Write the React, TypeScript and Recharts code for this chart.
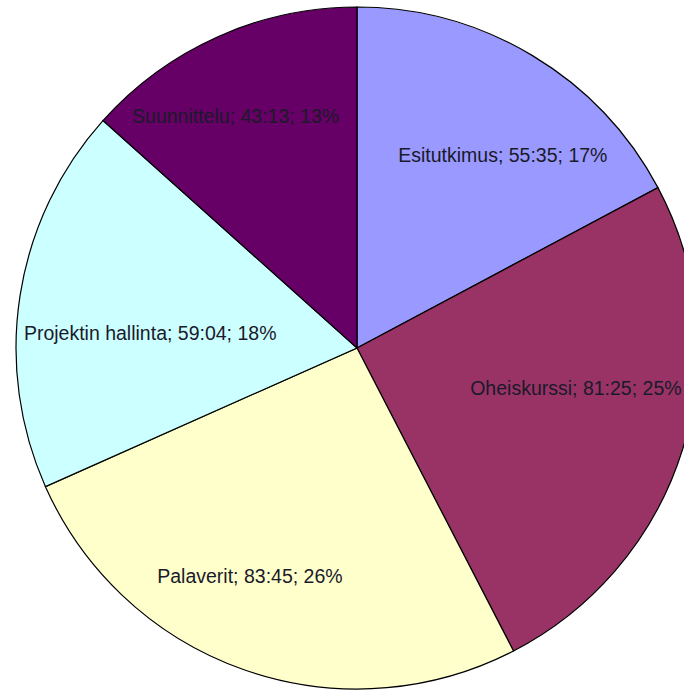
import { PieChart, Pie, Cell } from "recharts";

const names = [
  "Esitutkimus",
  "Oheiskurssi",
  "Palaverit",
  "Projektin hallinta",
  "Suunnittelu",
];
// hours spent, hh:mm
const durations = ["55:35", "81:25", "83:45", "59:04", "43:13"];
const colors = ["#9999ff", "#993366", "#ffffcc", "#ccffff", "#660066"];
// small nudges so labels sit where the original put them
const labelNudge = [
  [23, 12],
  [-9, -31],
  [-28, 3],
  [29, 22],
  [-24, -14],
];

const toHours = (s: string) => {
  const [h, m] = s.split(":").map(Number);
  return h + m / 60;
};

const data = names.map((name, i) => ({
  name,
  time: durations[i],
  value: toHours(durations[i]),
}));

const total = data.reduce((a, d) => a + d.value, 0);

const RAD = Math.PI / 180;

const renderLabel = (props: any) => {
  const { cx, cy, midAngle, outerRadius, index } = props;
  const r = outerRadius * 0.7;
  const x = cx + r * Math.cos(-midAngle * RAD) + labelNudge[index][0];
  const y = cy + r * Math.sin(-midAngle * RAD) + labelNudge[index][1];
  const d = data[index];
  const pct = Math.round((d.value / total) * 100);
  return (
    <text
      x={x}
      y={y}
      textAnchor="middle"
      dominantBaseline="central"
      fill="#1a1a2a"
      fontSize={19.5}
      fontFamily="'Liberation Sans', Arial, sans-serif"
    >
      {`${d.name}; ${d.time}; ${pct}%`}
    </text>
  );
};

export default function App() {
  return (
    <div
      style={{
        position: "fixed",
        left: 0,
        top: 0,
        width: 684,
        height: 690,
        overflow: "hidden",
        background: "#fff",
      }}
    >
      <PieChart
        width={684}
        height={690}
        margin={{ top: 0, right: 0, bottom: 0, left: 0 }}
      >
        <Pie
          data={data}
          dataKey="value"
          cx={357}
          cy={348}
          outerRadius={341}
          startAngle={90}
          endAngle={-270}
          stroke="#000"
          strokeWidth={1.2}
          label={renderLabel}
          labelLine={false}
          isAnimationActive={false}
        >
          {data.map((d, i) => (
            <Cell key={d.name} fill={colors[i]} />
          ))}
        </Pie>
      </PieChart>
    </div>
  );
}
